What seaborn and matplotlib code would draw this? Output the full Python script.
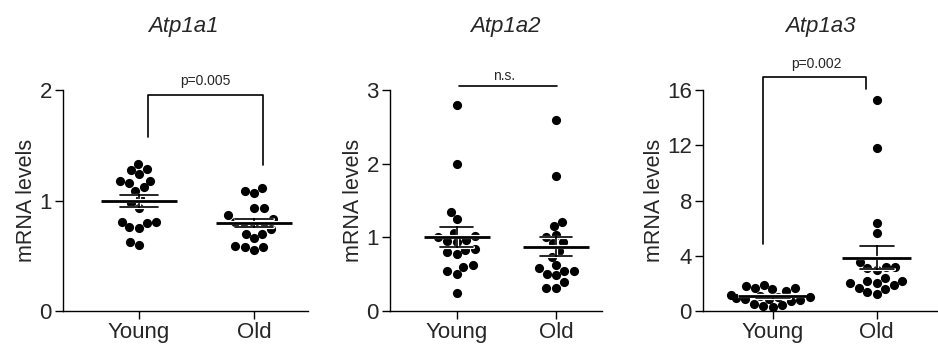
import numpy as np
import pandas as pd
import seaborn as sns
import matplotlib.pyplot as plt
import matplotlib.patheffects as pe

sns.set_style('ticks')
plt.rcParams['font.family'] = ['Liberation Sans', 'DejaVu Sans']

groups = ['Young', 'Old']
genes = ['Atp1a1', 'Atp1a2', 'Atp1a3']

# values
young1 = [1.33, 1.28, 1.29, 1.24, 1.18, 1.16, 1.18, 1.12, 1.09, 1.02, 0.98, 0.93, 0.76, 0.81, 0.80, 0.81, 0.75, 0.60, 0.63]
old1 = [1.07, 1.11, 1.09, 0.93, 0.93, 0.87, 0.81, 0.83, 0.81, 0.81, 0.80, 0.74, 0.70, 0.70, 0.66, 0.59, 0.58, 0.58, 0.55]
young2 = [2.80, 2.00, 1.35, 1.25, 1.06, 1.02, 0.97, 1.00, 0.94, 0.95, 0.83, 0.84, 0.80, 0.77, 0.62, 0.60, 0.51, 0.54, 0.25]
old2 = [2.59, 1.83, 1.21, 1.16, 1.04, 1.00, 0.92, 0.94, 0.82, 0.74, 0.63, 0.55, 0.55, 0.58, 0.51, 0.49, 0.39, 0.32, 0.32]
young3 = [1.93, 1.81, 1.69, 1.69, 1.57, 1.45, 1.20, 1.10, 1.05, 1.00, 0.95, 0.90, 0.85, 0.80, 0.72, 0.55, 0.45, 0.36, 0.30]
old3 = [15.26, 11.78, 6.40, 5.68, 3.55, 3.14, 3.21, 3.21, 2.95, 2.17, 2.17, 2.37, 2.01, 2.01, 1.86, 1.57, 1.69, 1.38, 1.26]

yticks_list = [[0, 1, 2], [0, 1, 2, 3], [0, 4, 8, 12, 16]]
p_labels = ['p=0.005', 'n.s.', 'p=0.002']

# bracket: x0, x1, top, left leg bottom, right leg bottom, text x, text y
brackets = [
    (0.08, 1.08, 1.955, 1.576, 1.318, 0.574, 2.08),
    (0.02, 1.01, 3.057, 3.057, 3.057, 0.476, 3.19),
    (-0.09, 0.90, 16.94, 4.83, 16.1, 0.42, 17.86),
]

# axes boxes in figure fraction, x limits and title x
rects = [[0.0672, 0.098, 0.2612, 0.641], [0.4158, 0.098, 0.2257, 0.641], [0.7495, 0.098, 0.2502, 0.641]]
xlims = [(-0.661, 1.47), (-0.672, 1.46), (-0.67, 1.587)]
title_x = [0.493, 0.547, 0.5]

data = [(young1, old1), (young2, old2), (young3, old3)]

fig = plt.figure(figsize=(9.38, 3.45), dpi=100)
halo = [pe.Stroke(linewidth=2.3, foreground='white'), pe.Normal()]

for i, (young, old) in enumerate(data):
    ax = fig.add_axes(rects[i])
    df = pd.DataFrame({'Group': ['Young'] * len(young) + ['Old'] * len(old),
                       'mRNA': young + old})

    sns.swarmplot(data=df, x='Group', y='mRNA', order=groups, color='black',
                  size=6.6, ax=ax, clip_on=False, zorder=3)

    n_before = len(ax.lines)
    sns.pointplot(data=df, x='Group', y='mRNA', order=groups, errorbar='se',
                  capsize=0.33, color='black', linestyle='none', marker='',
                  err_kws={'linewidth': 1.2}, ax=ax)
    for ln in ax.lines[n_before:]:
        ln.set_path_effects(halo)
        ln.set_zorder(5)

    means = df.groupby('Group')['mRNA'].mean().reindex(groups).values
    pos = np.arange(len(groups))
    hl = ax.hlines(means, pos - 0.33, pos + 0.33, color='black', lw=2, zorder=6)
    hl.set_path_effects([pe.Stroke(linewidth=3, foreground='white'), pe.Normal()])

    # significance bracket
    x0, x1, top, l_bot, r_bot, tx, ty = brackets[i]
    ax.plot([x0, x0, x1, x1], [l_bot, top, top, r_bot], color='black', lw=1.2,
            clip_on=False)
    ax.text(tx, ty, p_labels[i], ha='center', va='center', fontsize=10)

    ax.set_xlim(*xlims[i])
    ax.set_ylim(0, yticks_list[i][-1])
    ax.set_yticks(yticks_list[i])
    ax.set_xlabel('')
    ax.set_ylabel('mRNA levels', fontsize=15.5, labelpad=1.5)
    ax.set_title(genes[i], fontstyle='italic', fontsize=16, pad=42, x=title_x[i])
    ax.tick_params(axis='both', labelsize=16, width=1, length=6, pad=2, color='black')
    sns.despine(ax=ax)
    for side in ['left', 'bottom']:
        ax.spines[side].set_linewidth(1)
        ax.spines[side].set_color('black')

fig.savefig('out.png', dpi=100)
